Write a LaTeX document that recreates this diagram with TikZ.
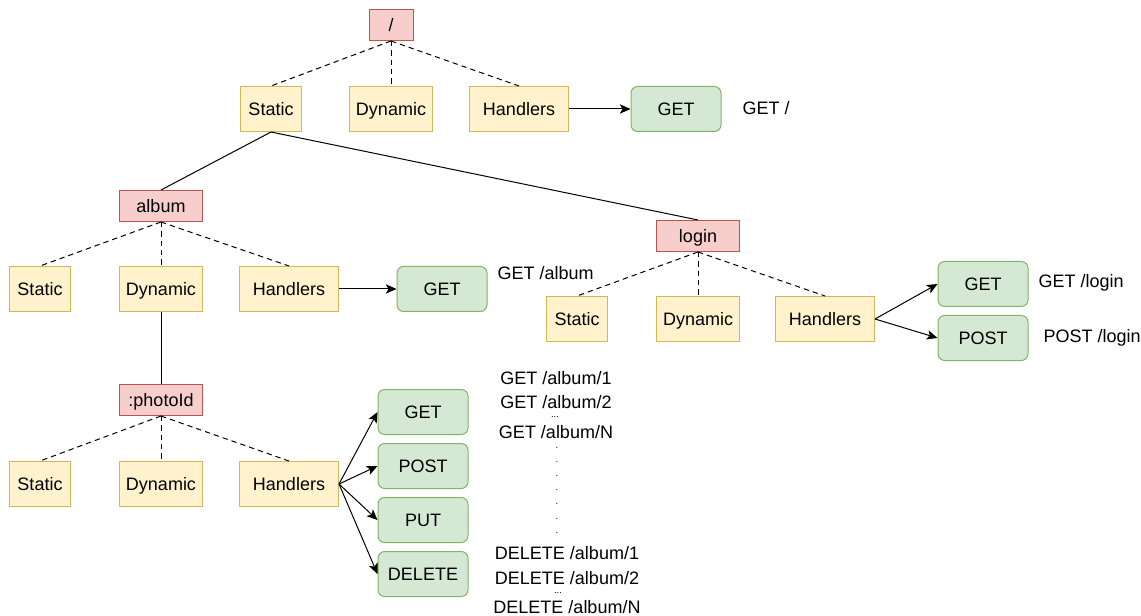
\documentclass[tikz,border=0pt]{standalone}
\usepackage{fontspec}
\setmainfont{Liberation Sans}
\usetikzlibrary{arrows.meta}
\definecolor{segFill}{HTML}{F8CECC}
\definecolor{segDraw}{HTML}{B85450}
\definecolor{kindFill}{HTML}{FFF2CC}
\definecolor{kindDraw}{HTML}{D6B656}
\definecolor{methodFill}{HTML}{D5E8D4}
\definecolor{methodDraw}{HTML}{82B366}
\newcommand{\boxHeight}{33.75pt}
\newcommand{\segHeight}{23.25pt}
\newcommand{\routeFont}{\fontsize{13.5}{16}\selectfont}

\begin{document}
\begin{tikzpicture}[x=0.75pt,y=-0.75pt,font=\routeFont,line width=0.75pt]
\tikzstyle{segNode}=[rectangle,draw=segDraw,fill=segFill,minimum width=62.25pt,minimum height=\segHeight,inner sep=0pt,text height=9.7pt,text depth=0pt]
\tikzstyle{kindNode}=[rectangle,draw=kindDraw,fill=kindFill,minimum width=62.25pt,minimum height=\boxHeight,inner sep=0pt,text height=9.7pt,text depth=0pt]
\tikzstyle{methodNode}=[rectangle,rounded corners=5pt,draw=methodDraw,fill=methodFill,minimum width=67.5pt,minimum height=\boxHeight,inner sep=0pt,text height=9.7pt,text depth=0pt]
\tikzstyle{routeText}=[inner sep=0pt]
\tikzstyle{gapText}=[inner sep=0pt,font=\fontsize{7}{7}\selectfont]
\tikzstyle{childEdge}=[dash pattern=on 4pt off 3pt]
\tikzstyle{treeEdge}=[]
\tikzstyle{handlerEdge}=[-{Stealth[length=8pt,width=7pt,inset=2pt]}]
\useasboundingbox (0,0) rectangle (1141,616);
% root
\node[segNode,minimum width=33pt] (n-0-0) at (391,25) {/};
\node[kindNode,minimum width=45.75pt] (n-1-0) at (271,109) {Static};
\node[kindNode] (n-1-1) at (391,109) {Dynamic};
\node[kindNode,minimum width=74.25pt] (n-1-2) at (519,109) {Handlers};
\draw[childEdge] (n-0-0.south) -- (n-1-0.north);
\draw[childEdge] (n-0-0.south) -- (n-1-1.north);
\draw[childEdge] (n-0-0.south) -- (n-1-2.north);
\node[methodNode] (h-1-0) at (676,109) {GET};
\draw[handlerEdge] (n-1-2) -- (h-1-0);
\node[routeText,anchor=west] (t-1-0) at (742,108) {GET /};
% album
\node[segNode] (n-2-0) at (161,206) {album};
\draw[treeEdge] (n-1-0.south) -- (n-2-0.north);
\node[kindNode,minimum width=45.75pt] (n-3-0) at (40,289) {Static};
\node[kindNode] (n-3-1) at (161,289) {Dynamic};
\node[kindNode,minimum width=74.25pt] (n-3-2) at (289,289) {Handlers};
\draw[childEdge] (n-2-0.south) -- (n-3-0.north);
\draw[childEdge] (n-2-0.south) -- (n-3-1.north);
\draw[childEdge] (n-2-0.south) -- (n-3-2.north);
\node[methodNode] (h-3-0) at (442,289) {GET};
\draw[handlerEdge] (n-3-2) -- (h-3-0);
\node[routeText,anchor=west] (t-3-0) at (497,273) {GET /album};
% login
\node[segNode] (n-2-1) at (698,236) {login};
\draw[treeEdge] (n-1-0.south) -- (n-2-1.north);
\node[kindNode,minimum width=45.75pt] (n-3-3) at (577,319) {Static};
\node[kindNode] (n-3-4) at (698,319) {Dynamic};
\node[kindNode,minimum width=74.25pt] (n-3-5) at (825,319) {Handlers};
\draw[childEdge] (n-2-1.south) -- (n-3-3.north);
\draw[childEdge] (n-2-1.south) -- (n-3-4.north);
\draw[childEdge] (n-2-1.south) -- (n-3-5.north);
\node[methodNode] (h-3-1) at (983,284) {GET};
\node[methodNode] (h-3-2) at (983,338) {POST};
\draw[handlerEdge] (n-3-5.east) -- (h-3-1.west);
\draw[handlerEdge] (n-3-5.east) -- (h-3-2.west);
\node[routeText,anchor=west] (t-3-1) at (1038,283) {GET /login};
\node[routeText,anchor=west] (t-3-2) at (1043,338) {POST /login};
% :photoId
\node[segNode] (n-4-0) at (161,400) {:photoId};
\draw[treeEdge] (n-3-1.south) -- (n-4-0.north);
\node[kindNode,minimum width=45.75pt] (n-5-0) at (40,484) {Static};
\node[kindNode] (n-5-1) at (161,484) {Dynamic};
\node[kindNode,minimum width=74.25pt] (n-5-2) at (289,484) {Handlers};
\draw[childEdge] (n-4-0.south) -- (n-5-0.north);
\draw[childEdge] (n-4-0.south) -- (n-5-1.north);
\draw[childEdge] (n-4-0.south) -- (n-5-2.north);
\foreach \verb/\i/\y in {GET/1/412,POST/2/466,PUT/3/520,DELETE/4/574}{
  \node[methodNode] (h-5-\i) at (423,\y) {\verb};
  \draw[handlerEdge] (n-5-2.east) -- (h-5-\i.west);
}
% requests
\node[routeText] (t-5-1) at (556,378) {GET /album/1};
\node[routeText] (t-5-2) at (556,402) {GET /album/2};
\node[gapText] (t-5-3) at (555,417) {...};
\node[routeText] (t-5-4) at (556,432) {GET /album/N};
\foreach \y [count=\i] in {448,462,476,490,504,519,533}
  \node[gapText] (d-\i) at (557,\y) {.};
\node[routeText] (t-5-5) at (567,553) {DELETE /album/1};
\node[routeText] (t-5-6) at (567,578) {DELETE /album/2};
\node[gapText] (t-5-7) at (558,593) {...};
\node[routeText] (t-5-8) at (567,607) {DELETE /album/N};
\end{tikzpicture}
\end{document}
